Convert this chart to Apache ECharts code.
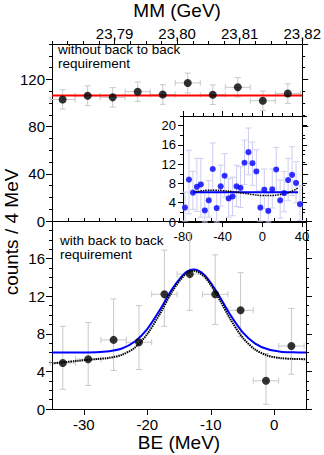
<!DOCTYPE html>
<html>
<head>
<meta charset="utf-8">
<script src="https://cdn.jsdelivr.net/npm/echarts@6/dist/echarts.min.js"></script>
<style>
  html, body { margin: 0; padding: 0; background: #fff; }
  #chart { width: 324px; height: 455px; }
</style>
</head>
<body>
<div id="chart"></div>
<script>
// bin centres shared by both panels (BE, MeV)
const beCenters = [-33.3, -29.3, -25.3, -21.3, -17.3, -13.3, -9.3, -5.3, -1.3, 2.7];
const binHalf = 2;

// upper panel: without back to back requirement
const topCounts = [103.0, 106.1, 104.8, 109.6, 107.2, 117.0, 107.0, 113.3, 101.9, 108.0];
const topErrHi = [111.2, 114.5, 113.0, 117.8, 115.5, 125.3, 115.3, 121.5, 110.2, 116.3];
const topErrLo = [94.9, 97.8, 96.6, 101.4, 98.9, 108.5, 98.7, 105.1, 93.6, 99.7];
const topFitX = [-35, 5];
const topFitY = [106.4, 106.4];

// lower panel: with back to back requirement
const btbCounts = [4.9, 5.3, 7.35, 7.1, 12.2, 14.35, 12.2, 10.5, 3.0, 6.7];
const btbErrHi = [8.8, 9.2, 11.7, 11.0, 16.9, 18.7, 16.4, 14.5, 5.9, 10.7];
const btbErrLo = [2.1, 2.5, 4.1, 4.2, 8.8, 10.5, 9.0, 7.7, 0.5, 3.7];
const fitX = [-35, -31, -28, -26, -24, -22, -20, -18, -16, -14, -12.7, -11, -9, -7, -5, -3, -1, 1, 3, 5];
const fitBlue = [6.0, 6.0, 6.03, 6.14, 6.43, 7.15, 8.51, 10.56, 12.84, 14.5, 14.85, 14.27, 12.4, 10.1, 8.18, 6.96, 6.35, 6.1, 6.03, 6.0];
const fitBlack = [4.85, 5.12, 5.31, 5.44, 5.76, 6.51, 7.97, 10.14, 12.57, 14.33, 14.7, 14.08, 12.1, 9.66, 7.61, 6.32, 5.67, 5.41, 5.33, 5.3];

// inset
const insetX = [-78, -74, -70, -66, -62, -58, -54, -50, -46, -42, -38, -34, -30, -26, -22, -18, -14, -10, -6, -2, 2, 6, 10, 14, 18, 22, 26, 30, 34, 38];
const insetCounts = [3.0, 8.8, 6.1, 7.3, 7.8, 2.4, 4.5, 11.0, 2.9, 7.4, 9.6, 4.9, 5.3, 7.4, 7.1, 12.3, 14.5, 12.2, 10.5, 3.0, 6.7, 2.3, 6.8, 10.9, 4.5, 6.0, 8.7, 9.8, 8.1, 3.7];
const insetErrHi = [6.2, 14.9, 10.5, 13.2, 13.2, 6.4, 8.6, 16.4, 6.2, 11.8, 14.2, 9.0, 9.3, 11.8, 11.5, 17.0, 19.5, 16.6, 15.0, 6.5, 11.0, 6.0, 11.0, 15.5, 8.7, 10.5, 13.2, 15.6, 12.5, 7.5];
const insetErrLo = [0.2, 1.7, 2.6, 2.2, 1.0, 0, 1.0, 6.6, 0, 3.3, 5.2, 1.0, 1.3, 3.2, 3.0, 7.8, 9.8, 7.6, 6.3, 0.2, 2.8, 0, 2.9, 6.3, 0.8, 2.1, 4.4, 5.5, 4.0, 0.3];
const insetBlueX = [-70, 36];
const insetBlueY = [6.2, 6.2];
const insetBlackX = [-70, -62, -55, -48, -40, -30, -20, -10, 0, 10, 18, 25, 30, 36];
const insetBlackY = [6.2, 6.45, 6.6, 6.6, 6.5, 6.3, 6.0, 5.7, 5.5, 5.5, 5.7, 6.0, 6.4, 7.1];

// tick labels
const beTicks = [-30, -20, -10, 0];

const FONT = 'Liberation Sans';

const zip = (xs, ys) => xs.map((x, i) => [x, ys[i]]);
const errData = (xs, ys, lo, hi) => xs.map((x, i) => [x, ys[i], lo[i], hi[i], x - binHalf, x + binHalf]);

function errorBars(color, cap) {
  return function (params, api) {
    const x = api.value(0), y = api.value(1);
    const a = api.coord([x, api.value(2)]);
    const b = api.coord([x, api.value(3)]);
    const l = api.coord([api.value(4), y]);
    const r = api.coord([api.value(5), y]);
    const style = { stroke: color, lineWidth: 1 };
    const seg = (x1, y1, x2, y2) => ({ type: 'line', shape: { x1, y1, x2, y2 }, style });
    return {
      type: 'group',
      children: [
        seg(a[0], a[1], b[0], b[1]),
        seg(a[0] - cap, a[1], a[0] + cap, a[1]),
        seg(b[0] - cap, b[1], b[0] + cap, b[1]),
        seg(l[0], l[1], r[0], r[1]),
        seg(l[0], l[1] - cap, l[0], l[1] + cap),
        seg(r[0], r[1] - cap, r[0], r[1] + cap)
      ]
    };
  };
}

const black = '#000';
const line = { show: true, onZero: false, lineStyle: { color: black, width: 1 } };
const noLine = { show: false, onZero: false };
const noLabel = { show: false };
const noSplit = { show: false };
const tick = (len, extra) => Object.assign({ show: true, inside: false, length: len, lineStyle: { color: black, width: 1 } }, extra || {});
const lbl = (size, margin, extra) => Object.assign({ show: true, color: black, fontSize: size, margin: margin, fontFamily: FONT }, extra || {});

// one axis for majors (+ labels), one for minors
const xAxes = [
  // 0: top panel bottom edge (series axis)
  { gridIndex: 0, type: 'value', min: -35, max: 5, axisLine: line, axisTick: { show: false }, axisLabel: noLabel, splitLine: noSplit },
  // 1-2: MM axis on top
  { gridIndex: 0, type: 'value', position: 'top', min: 23.78, max: 23.82, interval: 0.01, axisLine: line, axisTick: tick(6),
    axisLabel: lbl(15, 3, { showMinLabel: false, formatter: v => v.toFixed(2).replace('.', ',') }),
    splitLine: noSplit, name: 'MM (GeV)', nameLocation: 'middle', nameGap: 24,
    nameTextStyle: { fontSize: 19, color: black, fontFamily: FONT } },
  { gridIndex: 0, type: 'value', position: 'top', min: 23.78, max: 23.82, interval: 0.0025, axisLine: noLine, axisTick: tick(3), axisLabel: noLabel, splitLine: noSplit },
  // 3-4: BE axis
  { gridIndex: 1, type: 'value', min: -35, max: 5, axisLine: line, axisTick: tick(6, { customValues: beTicks }),
    axisLabel: lbl(15, 8, { customValues: beTicks }), splitLine: noSplit,
    name: 'BE (MeV)', nameLocation: 'middle', nameGap: 24, nameTextStyle: { fontSize: 19, color: black, fontFamily: FONT } },
  { gridIndex: 1, type: 'value', min: -35, max: 5, interval: 2.5, axisLine: noLine, axisTick: tick(3), axisLabel: noLabel, splitLine: noSplit },
  // 5-8: inset x, bottom and top
  { gridIndex: 2, type: 'value', min: -80, max: 40, interval: 40, axisLine: line, axisTick: tick(5), axisLabel: lbl(13, 8), splitLine: noSplit },
  { gridIndex: 2, type: 'value', min: -80, max: 40, interval: 10, axisLine: noLine, axisTick: tick(3), axisLabel: noLabel, splitLine: noSplit },
  { gridIndex: 2, type: 'value', position: 'top', min: -80, max: 40, interval: 40, axisLine: line, axisTick: tick(5), axisLabel: noLabel, splitLine: noSplit },
  { gridIndex: 2, type: 'value', position: 'top', min: -80, max: 40, interval: 10, axisLine: noLine, axisTick: tick(3), axisLabel: noLabel, splitLine: noSplit }
];

function yPair(grid, min, max, major, minor, pos, labels, size, len) {
  return [
    { gridIndex: grid, type: 'value', position: pos, min, max, interval: major, axisLine: line, axisTick: tick(len),
      axisLabel: labels ? lbl(size, 7, { showMaxLabel: false }) : noLabel, splitLine: noSplit },
    { gridIndex: grid, type: 'value', position: pos, min, max, interval: minor, axisLine: noLine, axisTick: tick(3), axisLabel: noLabel, splitLine: noSplit }
  ];
}

const yAxes = [].concat(
  yPair(0, 0, 150, 40, 10, 'left', true, 15, 6),   // 0,1
  yPair(0, 0, 150, 40, 10, 'right', false, 15, 6), // 2,3
  yPair(1, 0, 20, 4, 1, 'left', true, 15, 6),      // 4,5
  yPair(1, 0, 20, 4, 1, 'right', false, 15, 6),    // 6,7
  yPair(2, 0, 22, 4, 2, 'left', true, 13, 5),      // 8,9
  yPair(2, 0, 22, 4, 2, 'right', false, 13, 5)     // 10,11
);

const chart = echarts.init(document.getElementById('chart'), null, { renderer: 'svg' });

chart.setOption({
  animation: false,
  backgroundColor: '#fff',
  textStyle: { fontFamily: FONT },
  grid: [
    { left: 52, top: 34, width: 254, height: 187 },
    { left: 52, top: 221, width: 254, height: 188 },
    { left: 183, top: 116, width: 119, height: 106 }
  ],
  xAxis: xAxes,
  yAxis: yAxes,
  graphic: [
    { type: 'text', left: 58, top: 42, style: { text: 'without back to back\nrequirement', fontSize: 13.5, lineHeight: 14, fill: black, fontFamily: FONT } },
    { type: 'text', left: 60, top: 233, style: { text: 'with back to back\nrequirement', fontSize: 13.5, lineHeight: 14, fill: black, fontFamily: FONT } },
    { type: 'text', x: 11, y: 232, rotation: Math.PI / 2,
      style: { text: 'counts / 4 MeV', fontSize: 19, fill: black, fontFamily: FONT, align: 'center', verticalAlign: 'middle' } }
  ],
  series: [
    // upper panel
    { type: 'custom', xAxisIndex: 0, yAxisIndex: 0, renderItem: errorBars('#c8c8c8', 3),
      data: errData(beCenters, topCounts, topErrLo, topErrHi), encode: { x: 0, y: [1, 2, 3] }, z: 1 },
    { type: 'line', xAxisIndex: 0, yAxisIndex: 0, data: zip(topFitX, topFitY), symbol: 'none',
      lineStyle: { color: '#ff0000', width: 2 }, z: 2 },
    { type: 'scatter', xAxisIndex: 0, yAxisIndex: 0, data: zip(beCenters, topCounts), symbolSize: 8,
      itemStyle: { color: black }, z: 3 },

    // lower panel
    { type: 'custom', xAxisIndex: 3, yAxisIndex: 4, renderItem: errorBars('#c8c8c8', 3),
      data: errData(beCenters, btbCounts, btbErrLo, btbErrHi), encode: { x: 0, y: [1, 2, 3] }, z: 1 },
    { type: 'line', xAxisIndex: 3, yAxisIndex: 4, data: zip(fitX, fitBlue), symbol: 'none', smooth: 0.3,
      lineStyle: { color: '#0000ff', width: 2 }, z: 2 },
    { type: 'line', xAxisIndex: 3, yAxisIndex: 4, data: zip(fitX, fitBlack), symbol: 'none', smooth: 0.3,
      lineStyle: { color: black, width: 2, type: [1.5, 0.8] }, z: 2 },
    { type: 'scatter', xAxisIndex: 3, yAxisIndex: 4, data: zip(beCenters, btbCounts), symbolSize: 8,
      itemStyle: { color: black }, z: 3 },

    // inset
    { type: 'custom', xAxisIndex: 5, yAxisIndex: 8, renderItem: errorBars('#cdcdf2', 3),
      data: errData(insetX, insetCounts, insetErrLo, insetErrHi), encode: { x: 0, y: [1, 2, 3] }, z: 1 },
    { type: 'line', xAxisIndex: 5, yAxisIndex: 8, data: zip(insetBlueX, insetBlueY), symbol: 'none',
      lineStyle: { color: '#0000ff', width: 2 }, z: 2 },
    { type: 'line', xAxisIndex: 5, yAxisIndex: 8, data: zip(insetBlackX, insetBlackY), symbol: 'none', smooth: 0.4,
      lineStyle: { color: black, width: 1.5, type: [1.5, 1] }, z: 2 },
    { type: 'scatter', xAxisIndex: 5, yAxisIndex: 8, data: zip(insetX, insetCounts), symbolSize: 6,
      itemStyle: { color: '#0000ff' }, z: 3 }
  ]
});
</script>
</body>
</html>
